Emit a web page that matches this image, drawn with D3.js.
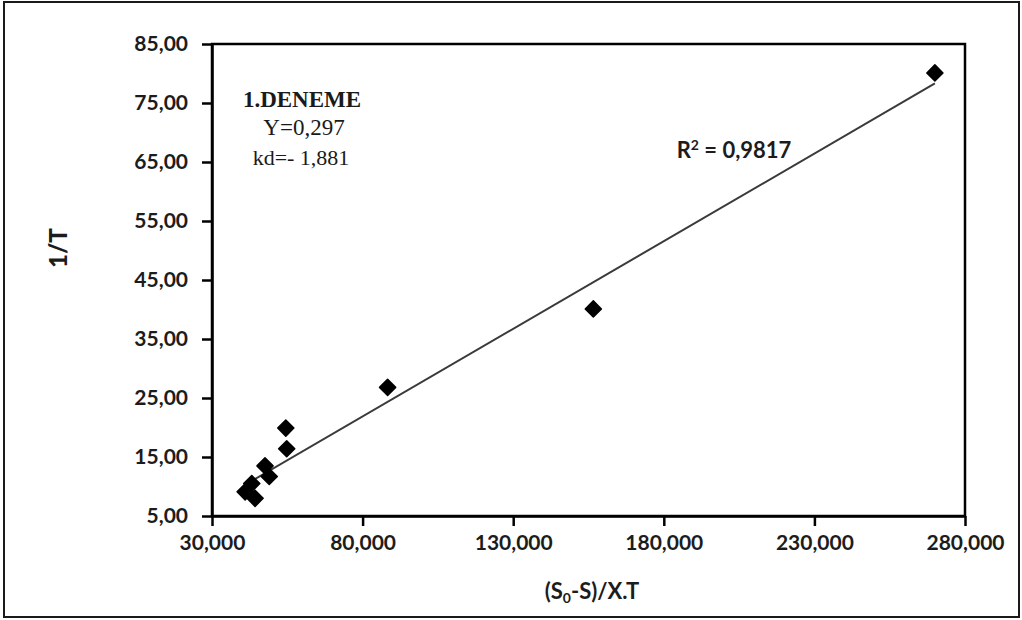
<!DOCTYPE html>
<html>
<head>
<meta charset="utf-8">
<script src="https://cdn.jsdelivr.net/npm/d3@7"></script>
<style>
  body { margin: 0; background: #fff; }
  svg { display: block; }
</style>
</head>
<body>
<svg id="chart" width="1022" height="620"></svg>
<script>
// Measured points: x = (S0-S)/X.T, y = 1/T
const xValues = [41.0, 43.2, 44.3, 47.6, 49.0, 54.5, 54.8, 88.3, 156.6, 270.0];
const yValues = [9.1, 10.5, 8.0, 13.5, 11.7, 19.9, 16.4, 26.8, 40.1, 80.1];

// Axis ticks
const xTicks = [30, 80, 130, 180, 230, 280];
const yTicks = [5, 15, 25, 35, 45, 55, 65, 75, 85];

// Fitted line 1/T = Y * x + kd
const yieldCoef = 0.297;
const decayCoef = -1.881;
const rSquared = 0.9817;

const trLocale = d3.formatLocale({ decimal: ",", thousands: ".", grouping: [3], currency: ["", " TL"] });
const fmtX = trLocale.format(".3f");
const fmtY = trLocale.format(".2f");
const fmtR = trLocale.format(".4f");
const fmtCoef = trLocale.format(".3f");

const svg = d3.select("#chart");
const plot = { left: 212, right: 965, top: 44, bottom: 516 };

// Outer chart border
svg.append("rect")
  .attr("x", 4).attr("y", 2).attr("width", 1015).attr("height", 615)
  .attr("fill", "#fff").attr("stroke", "#1a1a1a").attr("stroke-width", 2);

const x = d3.scaleLinear().domain([30, 280]).range([plot.left, plot.right]);
const y = d3.scaleLinear().domain([5, 85]).range([plot.bottom, plot.top]);

const tickFont = "Lato, 'Open Sans', sans-serif";

// Plot frame
svg.append("rect")
  .attr("x", plot.left).attr("y", plot.top)
  .attr("width", plot.right - plot.left).attr("height", plot.bottom - plot.top)
  .attr("fill", "none").attr("stroke", "#000").attr("stroke-width", 2.5);

// X axis
const gx = svg.append("g")
  .attr("transform", `translate(0,${plot.bottom})`)
  .call(d3.axisBottom(x).tickValues(xTicks).tickFormat(fmtX).tickSize(10).tickPadding(9).tickSizeOuter(0));
gx.select(".domain").attr("stroke", "#000").attr("stroke-width", 2.5);
gx.selectAll(".tick line").attr("stroke", "#000").attr("stroke-width", 2.5);
gx.selectAll(".tick text")
  .attr("font-family", tickFont).attr("font-size", 21).attr("font-weight", 700)
  .attr("fill", "#1c1c1c");

// Y axis
const gy = svg.append("g")
  .attr("transform", `translate(${plot.left},0)`)
  .call(d3.axisLeft(y).tickValues(yTicks).tickFormat(fmtY).tickSize(10).tickPadding(14).tickSizeOuter(0));
gy.select(".domain").attr("stroke", "#000").attr("stroke-width", 2.5);
gy.selectAll(".tick line").attr("stroke", "#000").attr("stroke-width", 2.5);
gy.selectAll(".tick text")
  .attr("font-family", tickFont).attr("font-size", 21).attr("font-weight", 700)
  .attr("fill", "#1c1c1c");

// Axis titles
svg.append("text")
  .attr("transform", `translate(67,${(plot.top + plot.bottom) / 2 - 32}) rotate(-90)`)
  .attr("text-anchor", "middle")
  .attr("font-family", tickFont).attr("font-size", 24).attr("font-weight", 900)
  .attr("fill", "#1c1c1c")
  .text("1/T");

const xt = svg.append("text")
  .attr("x", 592).attr("y", 599)
  .attr("text-anchor", "middle")
  .attr("font-family", tickFont).attr("font-size", 22).attr("font-weight", 700)
  .attr("fill", "#1c1c1c");
xt.append("tspan").text("(S");
xt.append("tspan").attr("dy", 4).attr("font-size", 14).text("0");
xt.append("tspan").attr("dy", -4).text("-S)/X.T");

// Trend line across the data range
const xMin = d3.min(xValues), xMax = d3.max(xValues);
svg.append("line")
  .attr("x1", x(xMin)).attr("y1", y(yieldCoef * xMin + decayCoef))
  .attr("x2", x(xMax)).attr("y2", y(yieldCoef * xMax + decayCoef))
  .attr("stroke", "#3a3a3a").attr("stroke-width", 2);

// Diamond markers
const diamond = d3.symbol().type(d3.symbolSquare).size(130);
svg.append("g").selectAll("path")
  .data(xValues.map((v, i) => [v, yValues[i]]))
  .join("path")
  .attr("d", diamond)
  .attr("transform", d => `translate(${x(d[0])},${y(d[1])}) rotate(45)`)
  .attr("fill", "#000")
  .attr("stroke", "#000").attr("stroke-width", 1.5).attr("stroke-linejoin", "round");

// R² label
const rl = svg.append("text")
  .attr("x", 734).attr("y", 158)
  .attr("text-anchor", "middle")
  .attr("font-family", tickFont).attr("font-size", 22).attr("font-weight", 700)
  .attr("fill", "#1c1c1c");
rl.append("tspan").text("R");
rl.append("tspan").attr("dy", -8).attr("font-size", 14).text("2");
rl.append("tspan").attr("dy", 8).text(" = " + fmtR(rSquared));

// Run annotation
const serif = "'Liberation Serif', 'Times New Roman', serif";
const ann = svg.append("g").attr("font-family", serif).attr("text-anchor", "middle").attr("fill", "#1a1a1a");
ann.append("text").attr("x", 302).attr("y", 107).attr("font-size", 23).attr("font-weight", 700).text("1.DENEME");
ann.append("text").attr("x", 304).attr("y", 135).attr("font-size", 23).text("Y=" + fmtCoef(yieldCoef));
ann.append("text").attr("x", 301).attr("y", 165).attr("font-size", 22).text("kd=- " + fmtCoef(Math.abs(decayCoef)));
</script>
</body>
</html>
